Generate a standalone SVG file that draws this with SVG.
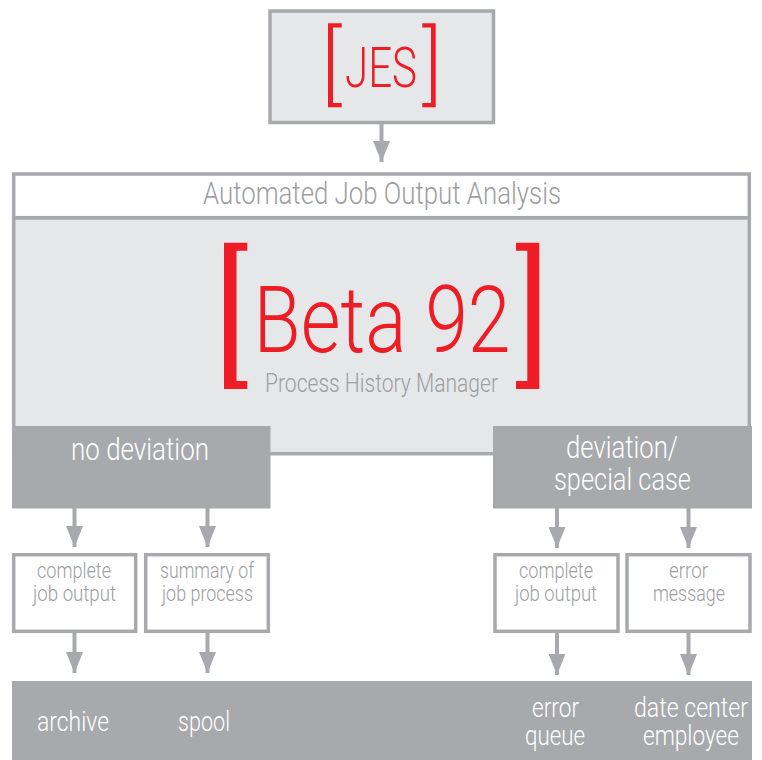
<svg xmlns="http://www.w3.org/2000/svg" width="762" height="760" viewBox="0 0 762 760">
<style>
text{font-family:"Roboto","Liberation Sans",sans-serif;font-weight:300;text-anchor:start}
.g{fill:#a7a9ac}
.t{fill:#9c9ea1}
.w{fill:#fff;font-size:31px}
.d{fill:#fff;font-size:27px}
.s{fill:#9c9ea1;font-size:22px}
.r{fill:#ee1c25}
.box{fill:#fff;stroke:#a7a9ac;stroke-width:3.5}
.lt{fill:#e6e7e8;stroke:#a7a9ac;stroke-width:3.5}
.c{stroke:#a7a9ac;stroke-width:4;fill:none;marker-end:url(#a)}
</style>
<defs>
<marker id="a" markerUnits="userSpaceOnUse" markerWidth="21" markerHeight="17" refX="21" refY="8.5" orient="auto" viewBox="0 0 21 17">
<path d="M0 0L21 8.5L0 17Z" fill="#a7a9ac"/>
</marker>
</defs>
<rect width="762" height="760" fill="#fff"/>
<g id="main">
<rect class="lt" x="13.7" y="217.7" width="735.6" height="236"/>
</g>
<g id="analysis">
<rect class="box" x="13.7" y="174" width="735.6" height="43.7"/>
<text class="t" x="203" y="204" font-size="31" textLength="358" lengthAdjust="spacingAndGlyphs">Automated Job Output Analysis</text>
</g>
<g id="beta">
<path class="r" d="M224 242.7H247.3V250.7H236.5V381H247.3V389H224Z"/>
<path class="r" d="M539.3 242.7H516V250.7H527.3V381H516V389H539.3Z"/>
<text class="r" x="253.5" y="351.5" font-size="93" textLength="257" lengthAdjust="spacingAndGlyphs">Beta 92</text>
<text class="t" x="265" y="392" font-size="26" textLength="233" lengthAdjust="spacingAndGlyphs">Process History Manager</text>
</g>
<g id="jes">
<rect class="lt" x="270" y="11" width="223.5" height="111.5"/>
<path class="r" d="M328 23.3H341.7V27.6H333V103H341.7V107.3H328Z"/>
<path class="r" d="M435.7 23.3H422.3V27.6H431V103H422.3V107.3H435.7Z"/>
<text class="r" x="345" y="87" font-size="56" textLength="72" lengthAdjust="spacingAndGlyphs">JES</text>
</g>
<g id="no-deviation">
<rect class="g" x="12" y="426" width="258.5" height="82.5"/>
<text class="w" x="71" y="460" textLength="138" lengthAdjust="spacingAndGlyphs">no deviation</text>
</g>
<g id="deviation">
<rect class="g" x="493" y="426" width="259" height="82.5"/>
<text class="w" x="566" y="458" textLength="112" lengthAdjust="spacingAndGlyphs">deviation/</text>
<text class="w" x="554" y="490" textLength="137" lengthAdjust="spacingAndGlyphs">special case</text>
</g>
<g id="complete-1">
<rect class="box" x="13.7" y="554.7" width="122" height="76.6"/>
<text class="s" x="37" y="578" textLength="74" lengthAdjust="spacingAndGlyphs">complete</text>
<text class="s" x="33" y="601" textLength="83" lengthAdjust="spacingAndGlyphs">job output</text>
</g>
<g id="summary">
<rect class="box" x="145.7" y="554.7" width="122.6" height="76.6"/>
<text class="s" x="160" y="578" textLength="94" lengthAdjust="spacingAndGlyphs">summary of</text>
<text class="s" x="162" y="601" textLength="91" lengthAdjust="spacingAndGlyphs">job process</text>
</g>
<g id="complete-2">
<rect class="box" x="495" y="554.7" width="123" height="76.6"/>
<text class="s" x="519" y="578" textLength="74" lengthAdjust="spacingAndGlyphs">complete</text>
<text class="s" x="515" y="601" textLength="82" lengthAdjust="spacingAndGlyphs">job output</text>
</g>
<g id="error-message">
<rect class="box" x="627" y="554.7" width="123" height="76.6"/>
<text class="s" x="669" y="578" textLength="39" lengthAdjust="spacingAndGlyphs">error</text>
<text class="s" x="653" y="601" textLength="72" lengthAdjust="spacingAndGlyphs">message</text>
</g>
<g id="destinations">
<rect class="g" x="12" y="681" width="740" height="79"/>
<text class="d" x="37" y="731" textLength="72" lengthAdjust="spacingAndGlyphs">archive</text>
<text class="d" x="178" y="731" textLength="52" lengthAdjust="spacingAndGlyphs">spool</text>
<text class="d" x="532" y="717" textLength="47" lengthAdjust="spacingAndGlyphs">error</text>
<text class="d" x="525" y="745" textLength="60" lengthAdjust="spacingAndGlyphs">queue</text>
<text class="d" x="634" y="717" textLength="114" lengthAdjust="spacingAndGlyphs">date center</text>
<text class="d" x="643" y="745" textLength="96" lengthAdjust="spacingAndGlyphs">employee</text>
</g>
<g id="connectors">
<line class="c" x1="381.5" y1="124" x2="381.5" y2="162"/>
<line class="c" x1="74.5" y1="508" x2="74.5" y2="547"/>
<line class="c" x1="207.5" y1="508" x2="207.5" y2="547"/>
<line class="c" x1="557" y1="508" x2="557" y2="548"/>
<line class="c" x1="688.5" y1="508" x2="688.5" y2="548"/>
<line class="c" x1="74.5" y1="633" x2="74.5" y2="673"/>
<line class="c" x1="207.5" y1="633" x2="207.5" y2="673"/>
<line class="c" x1="557" y1="633" x2="557" y2="675"/>
<line class="c" x1="688.5" y1="633" x2="688.5" y2="675"/>
</g>
</svg>
